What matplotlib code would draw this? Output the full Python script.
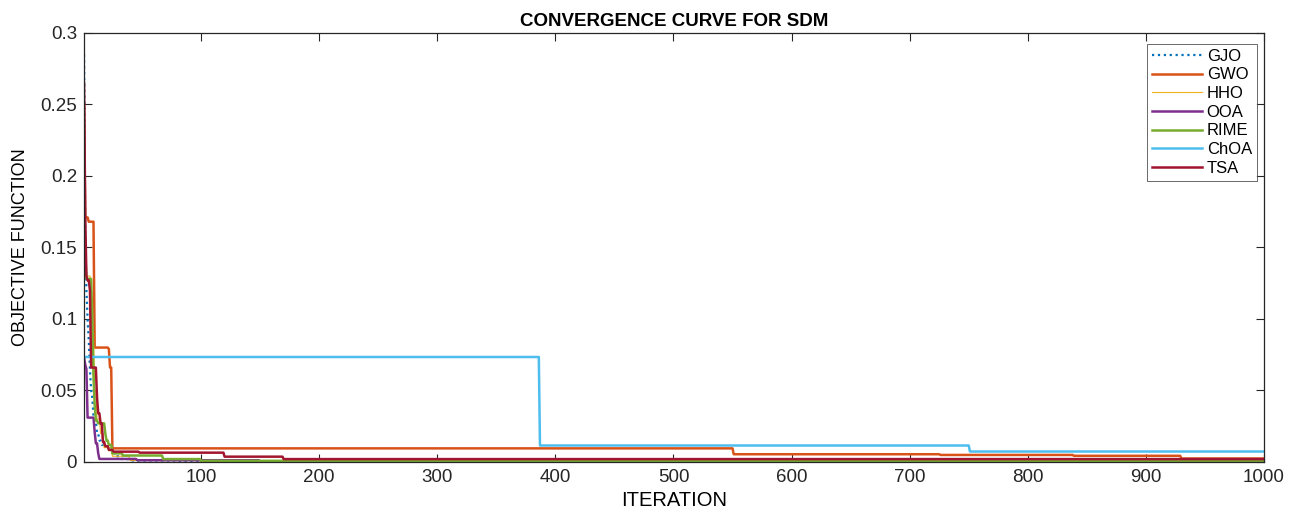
import numpy as np
import matplotlib
matplotlib.use("Agg")
import matplotlib.pyplot as plt

plt.rcParams['font.family'] = ['Liberation Sans', 'DejaVu Sans']

# convergence data: (iteration where value starts, value)
n_iter = 1000
names = ["GJO", "GWO", "HHO", "OOA", "RIME", "ChOA", "TSA"]

gjo_it = [1, 2, 3, 4, 5, 6, 7, 8, 9, 10, 12, 14, 16, 20, 24, 27, 33, 42, 80, 200]
gjo_val = [0.285, 0.16, 0.12, 0.1, 0.085, 0.065, 0.05, 0.045, 0.032, 0.028, 0.02,
           0.015, 0.012, 0.011, 0.009, 0.004, 0.002, 0.001, 0.0006, 0.0004]

gwo_it = [1, 2, 5, 10, 22, 23, 25, 551, 726, 839, 930]
gwo_val = [0.25, 0.171, 0.168, 0.08, 0.079, 0.066, 0.0095, 0.0054, 0.0049, 0.0043, 0.0024]

hho_it = [1, 3, 7, 8, 10, 12, 15, 18, 25, 40, 100]
hho_val = [0.15, 0.13, 0.125, 0.09, 0.05, 0.03, 0.02, 0.01, 0.004, 0.001, 0.0006]

ooa_it = [1, 2, 3, 4, 10, 11, 13, 14, 46, 150]
ooa_val = [0.073, 0.068, 0.065, 0.031, 0.021, 0.013, 0.006, 0.0021, 0.0012, 0.0004]

rime_it = [1, 3, 8, 9, 10, 11, 13, 19, 20, 22, 25, 34, 68, 100, 300]
rime_val = [0.147, 0.128, 0.1, 0.06, 0.04, 0.029, 0.027, 0.02, 0.015, 0.012,
            0.006, 0.0045, 0.002, 0.0008, 0.0005]

choa_it = [1, 387, 751]
choa_val = [0.0734, 0.0115, 0.0073]

tsa_it = [1, 2, 3, 4, 6, 7, 12, 13, 15, 17, 19, 22, 26, 48, 120, 170]
tsa_val = [0.265, 0.172, 0.13, 0.127, 0.12, 0.066, 0.045, 0.034, 0.027, 0.014,
           0.011, 0.0084, 0.0072, 0.0065, 0.0037, 0.002]

series_it = [gjo_it, gwo_it, hho_it, ooa_it, rime_it, choa_it, tsa_it]
series_val = [gjo_val, gwo_val, hho_val, ooa_val, rime_val, choa_val, tsa_val]

colors = ["#0072BD", "#D95319", "#EDB120", "#7E2F8E", "#77AC30", "#4DBEEE", "#A2142F"]
styles = [":", "-", "-", "-", "-", "-", "-"]
widths = [1.6, 1.8, 0.8, 1.8, 1.8, 1.8, 1.8]

x = np.arange(1, n_iter + 1)

fig = plt.figure(figsize=(13.01, 5.15), dpi=100)
ax = fig.add_axes([0.0646, 0.103, 0.907, 0.833])

for name, it, val, c, ls, lw in zip(names, series_it, series_val, colors, styles, widths):
    idx = np.searchsorted(np.array(it), x, side="right") - 1
    y = np.array(val)[idx]
    ax.plot(x, y, color=c, linestyle=ls, linewidth=lw, label=name)

ax.set_xlim(1, 1000)
ax.set_ylim(0, 0.3)
ax.set_xticks(np.arange(100, 1001, 100))
ax.set_yticks(np.arange(0, 0.301, 0.05))
ax.set_yticklabels(["0", "0.05", "0.1", "0.15", "0.2", "0.25", "0.3"])
ax.tick_params(direction="in", top=True, right=True, length=6, width=0.8,
               labelsize=13.5, colors="#262626", pad=5)
for sp in ax.spines.values():
    sp.set_color("#262626")
    sp.set_linewidth(0.9)

ax.set_title("CONVERGENCE CURVE FOR SDM", fontsize=13.5, fontweight="bold", pad=5)
ax.set_xlabel("ITERATION", fontsize=14.5, labelpad=4)
ax.set_ylabel("OBJECTIVE FUNCTION", fontsize=13, labelpad=8)

leg = ax.legend(loc="upper right", bbox_to_anchor=(0.994, 0.975), fontsize=12,
                frameon=True, fancybox=False, borderpad=0.3, labelspacing=0.22,
                handlelength=3.0, handletextpad=0.3, borderaxespad=0.0)
leg.get_frame().set_edgecolor("#262626")
leg.get_frame().set_linewidth(0.6)

fig.savefig("out.png", dpi=100)
